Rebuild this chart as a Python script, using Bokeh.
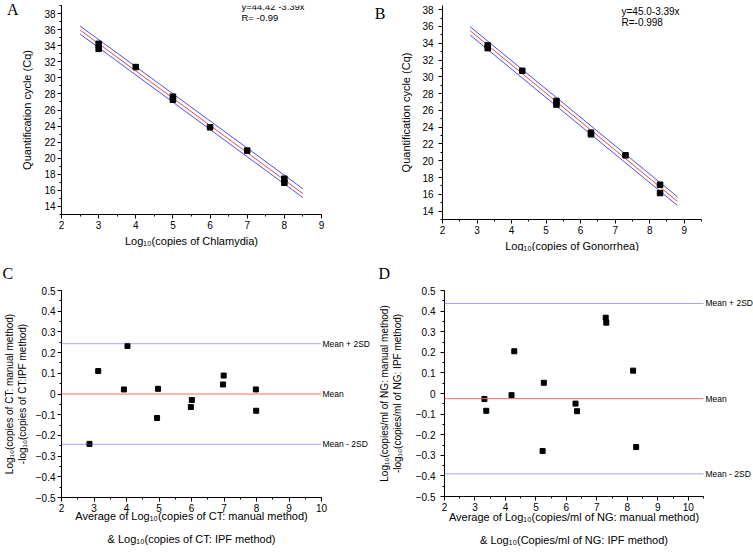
from bokeh.plotting import figure
from bokeh.layouts import row, column
from bokeh.models import (Range1d, SingleIntervalTicker, FixedTicker, Label, Span,
                          BasicTickFormatter, LinearAxis)
from bokeh.embed import file_html
from bokeh.resources import INLINE

SANS = "Liberation Sans"
SERIF = "Liberation Serif"
SUB10 = "\u2081\u2080"

# ---------------- data ----------------
# Panel A: standard curve, Chlamydia
a_log_copies = [3, 3, 4, 5, 5, 6, 7, 8, 8]
a_cq = [34.23, 33.61, 31.34, 27.66, 27.28, 23.85, 20.95, 17.45, 16.95]
a_fit_x = [2.5, 8.5]
a_fit_y = [35.95, 15.6]
a_upper_y = [36.45, 16.2]
a_lower_y = [35.45, 15.1]
a_equation = ["y=44.42 -3.39x", "R= -0.99"]

# Panel B: standard curve, Gonorrhea
b_log_copies = [3.31, 3.31, 4.31, 5.30, 5.30, 6.30, 6.30, 7.30, 8.30, 8.30]
b_cq = [33.74, 33.42, 30.72, 27.13, 26.70, 23.35, 23.15, 20.65, 17.14, 16.15]
b_fit_x = [2.8, 8.8]
b_fit_y = [35.5, 15.17]
b_upper_y = [35.97, 15.71]
b_lower_y = [34.97, 14.68]
b_equation = ["y=45.0-3.39x", "R=-0.998"]

# Panel C: Bland-Altman, CT
c_avg = [2.86, 3.13, 3.92, 4.03, 4.97, 4.94, 6.01, 5.98, 6.99, 6.97, 7.98, 7.99]
c_diff = [-0.241, 0.111, 0.022, 0.232, 0.025, -0.116, -0.029, -0.063, 0.089, 0.046, 0.022, -0.081]
c_mean = 0.0
c_upper = 0.243
c_lower = -0.243

# Panel D: Bland-Altman, NG
d_avg = [3.31, 3.37, 4.20, 4.29, 5.26, 5.22, 6.30, 6.35, 7.29, 7.31, 8.19, 8.29]
d_diff = [-0.027, -0.084, -0.008, 0.205, 0.052, -0.279, -0.049, -0.086, 0.368, 0.344, 0.111, -0.260]
d_mean = -0.025
d_upper = 0.437
d_lower = -0.39

ref_labels = ["Mean + 2SD", "Mean", "Mean - 2SD"]

RED = "#e84848"
BLUE = "#4e4ee8"
MEAN_RED = "#ff6a6a"
SD_BLUE = "#4a4aff"


def make_fig(g, bl, br, bt, bb, xint, yint, ytick_standoff, yprec=None):
    p = figure(x_range=Range1d(*g["xr"]), y_range=Range1d(*g["yr"]),
               frame_width=g["fw"], frame_height=g["fh"],
               min_border_left=bl, min_border_right=br,
               min_border_top=bt, min_border_bottom=bb,
               output_backend="svg", toolbar_location=None,
               background_fill_color="white", border_fill_color="white",
               outline_line_color=None)
    p.grid.visible = False
    p.xaxis.ticker = SingleIntervalTicker(interval=xint, num_minor_ticks=2)
    p.yaxis.ticker = SingleIntervalTicker(interval=yint, num_minor_ticks=2)
    if yprec is not None:
        p.yaxis.formatter = BasicTickFormatter(precision=yprec)
    for ax in (p.xaxis[0], p.yaxis[0]):
        ax.axis_line_color = "black"
        ax.axis_line_width = 1
        ax.major_tick_line_color = "black"
        ax.minor_tick_line_color = "black"
        ax.major_tick_out = 4
        ax.major_tick_in = 0
        ax.minor_tick_out = 2
        ax.minor_tick_in = 0
        ax.major_label_text_font = SANS
        ax.major_label_text_font_size = "10px"
        ax.major_label_text_color = "black"
        ax.axis_label_text_font = SANS
        ax.axis_label_text_font_style = "normal"
        ax.axis_label_text_color = "black"
    p.xaxis.major_label_standoff = 2
    p.yaxis.major_label_standoff = ytick_standoff
    return p


def set_title(ax, text, size, standoff, line_height=1.2):
    ax.axis_label = text
    ax.axis_label_text_font_size = size
    ax.axis_label_standoff = standoff
    ax.axis_label_text_line_height = line_height


def letter_axis(p, pos, text, standoff):
    ax = LinearAxis(ticker=FixedTicker(ticks=[pos], minor_ticks=[]),
                    major_label_overrides={pos: text})
    ax.axis_line_color = None
    ax.major_tick_line_color = None
    ax.minor_tick_line_color = None
    ax.major_tick_out = 0
    ax.major_tick_in = 0
    ax.major_label_standoff = standoff
    ax.major_label_text_font = SERIF
    ax.major_label_text_font_size = "16px"
    ax.major_label_text_color = "black"
    p.add_layout(ax, "left")


def ref_axis(p, values, standoff):
    ax = LinearAxis(ticker=FixedTicker(ticks=list(values), minor_ticks=[]),
                    major_label_overrides=dict(zip(values, ref_labels)))
    ax.axis_line_color = None
    ax.major_tick_line_color = None
    ax.minor_tick_line_color = None
    ax.major_tick_out = 0
    ax.major_tick_in = 0
    ax.major_label_standoff = standoff
    ax.major_label_text_font = SANS
    ax.major_label_text_font_size = "8.5px"
    ax.major_label_text_color = "black"
    p.add_layout(ax, "right")


def corner_letter(p, text, offset, standoff):
    p.title.text = text
    p.title.align = "left"
    p.title.offset = offset
    p.title.standoff = standoff
    p.title.text_font = SERIF
    p.title.text_font_size = "16px"
    p.title.text_font_style = "normal"
    p.title.text_color = "black"


def add_text(p, g, dx, dy_below_top, text, size):
    (x0, x1), (y0, y1), fw, fh = g["xr"], g["yr"], g["fw"], g["fh"]
    p.add_layout(Label(x=x0 + dx * (x1 - x0) / fw,
                       y=y1 - dy_below_top * (y1 - y0) / fh, text=text,
                       text_font=SANS, text_font_size=size, text_align="left",
                       text_baseline="middle", text_color="black"))


def below_top(g, px):
    return g["yr"][1] - px * (g["yr"][1] - g["yr"][0]) / g["fh"]


# ---------------- panel A ----------------
gA = dict(xr=(2, 9), yr=(13, 39), fw=260, fh=209)
pA = make_fig(gA, 61, 49, 5, 37, 1, 2, 2)
pA.line(a_fit_x, a_upper_y, line_color=BLUE, line_width=1)
pA.line(a_fit_x, a_lower_y, line_color=BLUE, line_width=1)
pA.line(a_fit_x, a_fit_y, line_color=RED, line_width=1)
pA.scatter(a_log_copies, a_cq, marker="square", size=5.5, fill_color="black", line_color="black")
set_title(pA.yaxis[0], "Quantification cycle (Cq)", "11px", 8)
set_title(pA.xaxis[0], "Log" + SUB10 + "(copies of Chlamydia)", "11px", 3)
letter_axis(pA, below_top(gA, 3), "A", 0)
add_text(pA, gA, 180, 0.5, a_equation[0], "9.5px")
add_text(pA, gA, 180, 12, a_equation[1], "9.5px")

# ---------------- panel B ----------------
gB = dict(xr=(2, 9.5), yr=(13, 38.5), fw=259, fh=214)
pB = make_fig(gB, 72, 51, 0, 37, 1, 2, 5)
pB.line(b_fit_x, b_upper_y, line_color=BLUE, line_width=1)
pB.line(b_fit_x, b_lower_y, line_color=BLUE, line_width=1)
pB.line(b_fit_x, b_fit_y, line_color=RED, line_width=1)
pB.scatter(b_log_copies, b_cq, marker="square", size=5.5, fill_color="black", line_color="black")
set_title(pB.yaxis[0], "Quantification cycle (Cq)", "11px", 7)
set_title(pB.xaxis[0], "Log" + SUB10 + "(copies of Gonorrhea)", "11px", 3)
letter_axis(pB, below_top(gB, 8), "B", 12)
add_text(pB, gB, 179, 5.5, b_equation[0], "10px")
add_text(pB, gB, 179, 17, b_equation[1], "10px")

# ---------------- panel C ----------------
gC = dict(xr=(2, 10), yr=(-0.5, 0.5), fw=260, fh=207)
pC = make_fig(gC, 61, 49, 39, 58, 1, 0.1, 2, yprec=1)
pC.add_layout(Span(location=c_upper, dimension="width", line_color=SD_BLUE, line_dash="1 1", line_width=1))
pC.add_layout(Span(location=c_lower, dimension="width", line_color=SD_BLUE, line_dash="1 1", line_width=1))
pC.add_layout(Span(location=c_mean, dimension="width", line_color=MEAN_RED, line_width=1))
pC.scatter(c_avg, c_diff, marker="square", size=5, fill_color="black", line_color="black")
ref_axis(pC, [c_upper, c_mean, c_lower], 1)
set_title(pC.yaxis[0], "Log" + SUB10 + "(copies of CT: manual method)\n-log" + SUB10 +
          "(copies of CT:IPF method)", "10px", 5, 1.2)
set_title(pC.xaxis[0], "Average of Log" + SUB10 + "(copies of CT: manual method)\n& Log" + SUB10 +
          "(copies of CT: IPF method)", "11px", -5, 1.95)
corner_letter(pC, "C", -59, 18)

# ---------------- panel D ----------------
gD = dict(xr=(2, 10.5), yr=(-0.5, 0.5), fw=259, fh=206)
pD = make_fig(gD, 72, 51, 39, 59, 1, 0.1, 5, yprec=1)
pD.add_layout(Span(location=d_upper, dimension="width", line_color=SD_BLUE, line_dash="1 1", line_width=1))
pD.add_layout(Span(location=d_lower, dimension="width", line_color=SD_BLUE, line_dash="1 1", line_width=1))
pD.add_layout(Span(location=d_mean, dimension="width", line_color=MEAN_RED, line_width=1))
pD.scatter(d_avg, d_diff, marker="square", size=5, fill_color="black", line_color="black")
ref_axis(pD, [d_upper, d_mean, d_lower], 2)
set_title(pD.yaxis[0], "Log" + SUB10 + "(copies/ml of NG: manual method)\n-log" + SUB10 +
          "(copies/ml of NG: IPF method)", "10px", 10, 1.2)
set_title(pD.xaxis[0], "Average of Log" + SUB10 + "(copies/ml of NG: manual method)\n& Log" + SUB10 +
          "(Copies/ml of NG: IPF method)", "11px", -3, 1.95)
corner_letter(pD, "D", -66, 18)

layout = column(row(pA, pB, spacing=0), row(pC, pD, spacing=0), spacing=0)

with open("out.html", "w") as f:
    f.write(file_html(layout, INLINE))
